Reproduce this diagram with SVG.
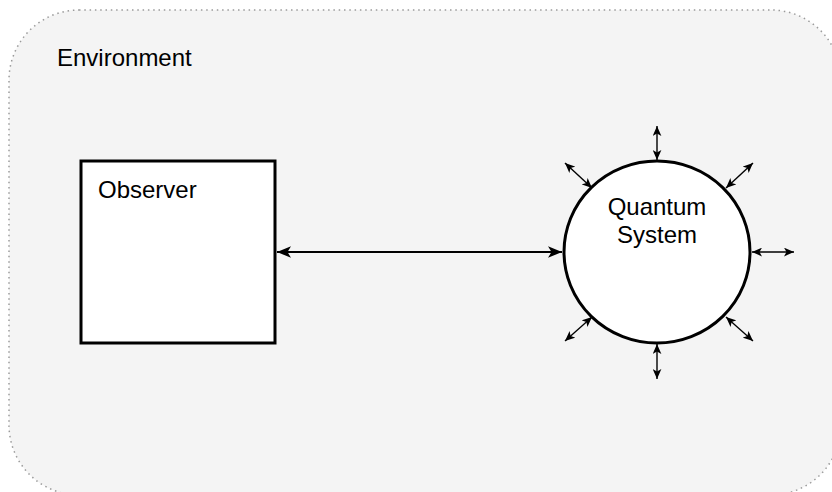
<svg xmlns="http://www.w3.org/2000/svg" width="832" height="492" viewBox="0 0 832 492">
  <style>
    .label { font-family: "Liberation Sans", Arial, Helvetica, sans-serif; font-size: 24px; fill: #000; }
    .node { fill: #fff; stroke: #000; stroke-width: 3; }
    .env { fill: #f4f4f4; stroke: #9a9a9a; stroke-width: 1.5; stroke-dasharray: 1.5 3.8; }
    .link { fill: none; stroke: #000; stroke-width: 2.2; }
    .ray { fill: none; stroke: #000; stroke-width: 1.4; }
  </style>
  <defs>
    <marker id="headBig" viewBox="0 0 12 10" refX="12" refY="5" markerWidth="14" markerHeight="12" markerUnits="userSpaceOnUse" orient="auto-start-reverse">
      <path d="M0,0 L12,5 L0,10 L3,5 Z" fill="#000"/>
    </marker>
    <marker id="headSmall" viewBox="0 0 8 7" refX="8" refY="3.5" markerWidth="10" markerHeight="9" markerUnits="userSpaceOnUse" orient="auto-start-reverse">
      <path d="M0,0 L8,3.5 L0,7 L2,3.5 Z" fill="#000"/>
    </marker>
  </defs>

  <!-- surrounding environment -->
  <g id="environment">
    <rect class="env" x="9" y="10" width="832" height="485" rx="70" ry="70"/>
    <text class="label" x="57" y="66">Environment</text>
  </g>

  <!-- observer box -->
  <g id="observer">
    <rect class="node" x="81" y="161" width="194" height="182"/>
    <text class="label" x="98" y="198">Observer</text>
  </g>

  <!-- quantum system -->
  <g id="quantum-system">
    <ellipse class="node" cx="657" cy="252" rx="93" ry="91"/>
    <text class="label" x="657" y="215" text-anchor="middle">Quantum</text>
    <text class="label" x="657" y="243" text-anchor="middle">System</text>
  </g>

  <!-- connectors -->
  <g id="connectors">
    <line class="link" x1="277" y1="252" x2="562" y2="252" marker-start="url(#headBig)" marker-end="url(#headBig)"/>
    <line class="ray" x1="657" y1="126" x2="657" y2="160" marker-start="url(#headSmall)" marker-end="url(#headSmall)"/>
    <line class="ray" x1="657" y1="344" x2="657" y2="379" marker-start="url(#headSmall)" marker-end="url(#headSmall)"/>
    <line class="ray" x1="752" y1="252" x2="794" y2="252" marker-start="url(#headSmall)" marker-end="url(#headSmall)"/>
    <line class="ray" x1="565" y1="163" x2="592" y2="188" marker-start="url(#headSmall)" marker-end="url(#headSmall)"/>
    <line class="ray" x1="753" y1="163" x2="726" y2="188" marker-start="url(#headSmall)" marker-end="url(#headSmall)"/>
    <line class="ray" x1="565" y1="341" x2="592" y2="317" marker-start="url(#headSmall)" marker-end="url(#headSmall)"/>
    <line class="ray" x1="753" y1="341" x2="726" y2="317" marker-start="url(#headSmall)" marker-end="url(#headSmall)"/>
  </g>
</svg>
